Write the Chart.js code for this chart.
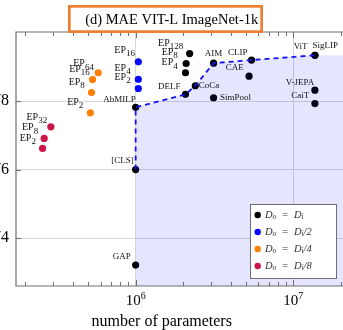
<!DOCTYPE html>
<html>
<head>
<meta charset="utf-8">
<script src="https://cdn.jsdelivr.net/npm/chart.js@4"></script>
<style>
  html, body { margin: 0; padding: 0; background: #fff; }
  body { width: 343px; height: 330px; overflow: hidden; position: relative; }
  #myChart { position: absolute; left: -30px; top: 0; }
</style>
</head>
<body>
<canvas id="myChart" width="400" height="330"></canvas>
<script>
// values (x = number of parameters, y = accuracy)
const blackNames = ["GAP", "[CLS]", "AbMILP", "DELF", "CoCa", "SimPool", "AIM", "CLIP", "CAE", "SigLIP", "ViT", "V-JEPA", "CaiT", "EP_128", "EP_8", "EP_4"];
const blackParams = [1.0e6, 1.0e6, 1.0e6, 2.07e6, 2.39e6, 3.12e6, 3.12e6, 5.43e6, 5.24e6, 1.37e7, 1.37e7, 1.37e7, 1.37e7, 2.2e6, 2.09e6, 2.07e6];
const blackAcc = [73.21, 76.0, 77.82, 78.2, 78.45, 78.1, 79.11, 79.2, 78.73, 79.34, 79.34, 78.32, 77.93, 79.39, 79.1, 78.83];

const blueNames = ["EP_16", "EP_4", "EP_2"];
const blueParams = [1.04e6, 1.04e6, 1.04e6];
const blueAcc = [79.15, 78.64, 78.37];

const orangeNames = ["EP_64", "EP_16", "EP_8", "EP_2"];
const orangeParams = [5.79e5, 5.33e5, 5.25e5, 5.16e5];
const orangeAcc = [78.83, 78.63, 78.25, 77.66];

const redNames = ["EP_32", "EP_8", "EP_2"];
const redParams = [2.9e5, 2.63e5, 2.57e5];
const redAcc = [77.25, 76.91, 76.62];

const seriesLabels = ["D_o = D_i", "D_o = D_i/2", "D_o = D_i/4", "D_o = D_i/8"];
const frontierNames = ["[CLS]", "AbMILP", "DELF", "CoCa", "AIM", "CLIP", "SigLIP"];

const xTickValues = [1e6, 1e7];
const xTickLabels = ["10^6", "10^7"];
const yTicks = [74, 76, 78];
const xMin = 1.743e5, xMax = 2.889e7;
const yMin = 72.6, yMax = 80.02;

const title = "(d) MAE VIT-L ImageNet-1k";
const xTitle = "number of parameters";

// label offsets from their dot (px): dx, dy, align
const blackLabelPos = [[-5, -8.5, "right"], [-2, -8.6, "right"], [0, -7.5, "right"], [-5, -8, "right"], [3.5, 0, "left"], [6.5, 0, "left"],
  [0, -10, "center"], [-4, -7.7, "right"], [-5.3, -8.3, "right"], [-2.3, -10, "left"], [-7.3, -8.3, "right"], [-0.7, -7.8, "right"],
  [-5.7, -7.7, "right"], [-6.4, -10.6, "right"], [-8.3, -11.6, "right"], [-7.7, -10, "right"]];
const blueLabelPos = [[-3.3, -11.7, "right"], [-7.7, -10.7, "right"], [-7.7, -11, "right"]];
const orangeLabelPos = [[-4.3, -9, "right"], [-2.7, -10, "right"], [-6.7, -10.6, "right"], [-7, -10.4, "right"]];
const redLabelPos = [[-3.7, -9.4, "right"], [-6, -10.6, "right"], [-6.7, -10, "right"]];

const OFF = 30; // canvas sits 30px left of the page edge
const SERIF = "'Liberation Serif', 'DejaVu Serif', serif";

const toPts = (xs, ys) => xs.map((x, i) => ({ x: x, y: ys[i] }));

const frontier = frontierNames.map(n => {
    const i = blackNames.indexOf(n);
    return { x: blackParams[i], y: blackAcc[i] };
});
const fillPts = frontier.slice(1).concat([{ x: xMax, y: frontier[frontier.length - 1].y }]);

const minorTicks = [];
for (let e = 5; e <= 7; e++) {
    for (let m = 1; m <= 9; m++) {
        const v = m * Math.pow(10, e);
        if (v > xMin && v < xMax) minorTicks.push(v);
    }
}

function drawRich(ctx, text, x, y, align, o) {
    const segs = [];
    const re = /([_^])([A-Za-z0-9]+)|([^_^]+)/g;
    let m;
    while ((m = re.exec(text))) {
        if (m[3]) segs.push({ t: m[3], k: "n" });
        else segs.push({ t: m[2], k: m[1] === "_" ? "sub" : "sup" });
    }
    const fontFor = k => (o.style || "") + " " + (k === "n" ? o.size : o.small) + "px " + SERIF;
    let w = 0;
    segs.forEach(s => { ctx.font = fontFor(s.k); s.w = ctx.measureText(s.t).width; w += s.w; });
    let cx = align === "right" ? x - w : align === "center" ? x - w / 2 : x;
    ctx.textAlign = "left";
    ctx.textBaseline = "middle";
    ctx.fillStyle = o.color || "#111";
    segs.forEach(s => {
        ctx.font = fontFor(s.k);
        const dy = s.k === "sub" ? o.shift : s.k === "sup" ? -o.shift : 0;
        ctx.fillText(s.t, cx, y + dy);
        cx += s.w;
    });
}

const series = [
    { names: blackNames, xs: blackParams, ys: blackAcc, pos: blackLabelPos, color: "#000000" },
    { names: blueNames, xs: blueParams, ys: blueAcc, pos: blueLabelPos, color: "rgb(10,10,255)" },
    { names: orangeNames, xs: orangeParams, ys: orangeAcc, pos: orangeLabelPos, color: "rgb(255,128,0)" },
    { names: redNames, xs: redParams, ys: redAcc, pos: redLabelPos, color: "rgb(204,20,72)" },
];

const decor = {
    id: "decor",
    afterDraw(chart) {
        const ctx = chart.ctx;
        const xs = chart.scales.x, ys = chart.scales.y, a = chart.chartArea;
        ctx.save();

        // frame + inward ticks
        ctx.strokeStyle = "#6e6e6e";
        ctx.lineWidth = 1.2;
        ctx.beginPath();
        ctx.moveTo(a.right + 2, a.top); ctx.lineTo(a.left, a.top);
        ctx.lineTo(a.left, a.bottom); ctx.lineTo(a.right + 2, a.bottom);
        ctx.stroke();
        ctx.lineWidth = 1;
        ctx.beginPath();
        minorTicks.forEach(v => {
            const px = Math.round(xs.getPixelForValue(v)) + 0.5;
            const len = xTickValues.includes(v) ? 6 : 4;
            ctx.moveTo(px, a.bottom); ctx.lineTo(px, a.bottom - len);
            ctx.moveTo(px, a.top); ctx.lineTo(px, a.top + len);
        });
        yTicks.forEach(v => {
            const py = Math.round(ys.getPixelForValue(v)) + 0.5;
            ctx.moveTo(a.left, py); ctx.lineTo(a.left + 5, py);
        });
        ctx.stroke();

        // x tick labels and axis title
        xTickValues.forEach((v, i) => {
            drawRich(ctx, xTickLabels[i], xs.getPixelForValue(v), 301, "center", { size: 15, small: 10, shift: 4.5, color: "#000" });
        });
        ctx.font = "16px " + SERIF;
        ctx.fillStyle = "#000";
        ctx.textAlign = "center";
        ctx.textBaseline = "alphabetic";
        ctx.fillText(xTitle, 161.7 + OFF, 326);

        // point labels
        series.forEach(s => {
            s.names.forEach((n, i) => {
                const px = xs.getPixelForValue(s.xs[i]);
                const py = ys.getPixelForValue(s.ys[i]);
                const p = s.pos[i];
                const big = n.indexOf("_") >= 0;
                drawRich(ctx, n, px + p[0], py + p[1], p[2], { size: big ? 10 : 9, small: 9, shift: 3.5 });
            });
        });

        // legend
        const lx = 250 + OFF, ly = 204;
        ctx.fillStyle = "#fff";
        ctx.fillRect(lx, ly, 86, 74);
        ctx.strokeStyle = "#6e6e6e";
        ctx.lineWidth = 1;
        ctx.strokeRect(lx + 0.5, ly + 0.5, 86, 74);
        chart.data.datasets.slice(2).forEach((ds, i) => {
            const y = 215 + i * 17;
            ctx.fillStyle = ds.backgroundColor;
            ctx.beginPath();
            ctx.arc(257.7 + OFF, y, 3.2, 0, Math.PI * 2);
            ctx.fill();
            drawRich(ctx, ds.label.replace(" = ", "\u2002=\u2002"), 265 + OFF, y, "left", { size: 10.5, small: 7.5, shift: 2.5, style: "italic", color: "#333" });
        });

        // title box
        ctx.lineWidth = 2.7;
        ctx.strokeStyle = "rgb(237,125,49)";
        ctx.fillStyle = "#fff";
        ctx.fillRect(69.35 + OFF, 6.35, 192.3, 25.3);
        ctx.strokeRect(69.35 + OFF, 6.35, 192.3, 25.3);
        ctx.font = "14.5px " + SERIF;
        ctx.fillStyle = "#000";
        ctx.textAlign = "center";
        ctx.textBaseline = "middle";
        ctx.fillText(title, 171.7 + OFF, 20);
        ctx.restore();
    }
};

const pointDs = (label, pts, color) => ({
    label: label,
    data: pts,
    backgroundColor: color,
    borderColor: color,
    pointRadius: 3.6,
    pointBorderWidth: 0,
});

const config = {
    type: "scatter",
    data: {
        datasets: [
            {
                type: "line",
                label: "region",
                data: fillPts,
                showLine: true,
                borderWidth: 0,
                pointRadius: 0,
                backgroundColor: "rgba(0,0,255,0.1)",
                fill: "start",
            },
            {
                type: "line",
                label: "frontier",
                data: frontier,
                showLine: true,
                borderColor: "rgb(20,20,240)",
                borderWidth: 1.8,
                borderDash: [5, 4],
                pointRadius: 0,
                fill: false,
            },
            pointDs(seriesLabels[0], toPts(blackParams, blackAcc), series[0].color),
            pointDs(seriesLabels[1], toPts(blueParams, blueAcc), series[1].color),
            pointDs(seriesLabels[2], toPts(orangeParams, orangeAcc), series[2].color),
            pointDs(seriesLabels[3], toPts(redParams, redAcc), series[3].color),
        ],
    },
    options: {
        responsive: false,
        animation: false,
        devicePixelRatio: 1,
        layout: { padding: { top: 32, left: 0, right: 0, bottom: 0 } },
        plugins: { legend: { display: false }, tooltip: { enabled: false } },
        scales: {
            x: {
                type: "logarithmic",
                min: xMin,
                max: xMax,
                afterFit: s => { s.height = 44; },
                afterBuildTicks: s => { s.ticks = minorTicks.map(v => ({ value: v })); },
                ticks: { display: false },
                grid: {
                    drawTicks: false,
                    color: c => (c.tick && xTickValues.includes(c.tick.value) ? "#d6d6d6" : "rgba(0,0,0,0)"),
                },
                border: { display: false },
            },
            y: {
                min: yMin,
                max: yMax,
                afterFit: s => { s.width = 46; },
                afterBuildTicks: s => { s.ticks = yTicks.map(v => ({ value: v })); },
                ticks: { font: { family: SERIF, size: 16 }, color: "#000", padding: 7 },
                grid: { drawTicks: false, color: "#d6d6d6" },
                border: { display: false },
            },
        },
    },
    plugins: [decor],
};

const myChart = new Chart(document.getElementById("myChart"), config);
</script>
</body>
</html>
